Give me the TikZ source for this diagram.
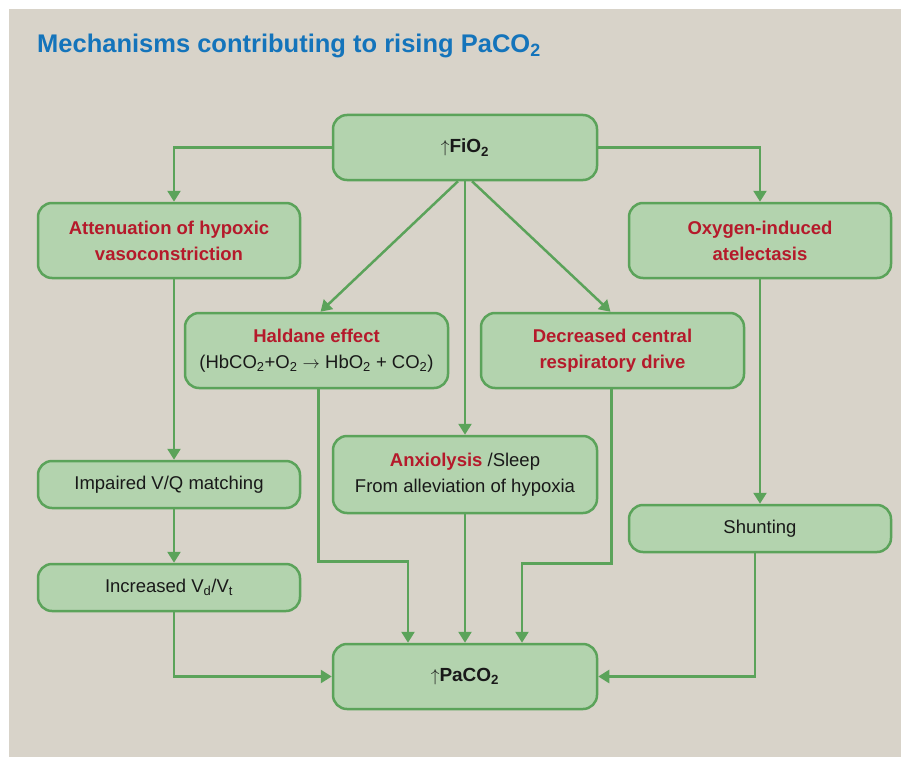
\documentclass[tikz,border=0pt]{standalone}
\usepackage{fontspec}
\setmainfont{Liberation Sans}
\usetikzlibrary{arrows.meta,positioning}

\definecolor{bgtan}{HTML}{D8D3C9}
\definecolor{boxfill}{HTML}{B3D3AE}
\definecolor{boxline}{HTML}{5BA35A}
\definecolor{titleblue}{HTML}{1474BB}
\definecolor{mechred}{HTML}{B51A2B}

\begin{document}
\begin{tikzpicture}[
    x=1pt, y=-1pt,
    box/.style={rounded corners=14pt, draw=boxline, fill=boxfill, line width=2.5pt, align=center,
      minimum width=262pt, minimum height=47pt, inner sep=2pt, text=black!90,
      font=\fontsize{18.5}{26}\selectfont},
    keybox/.style={box, minimum height=75pt, text=mechred, font=\fontsize{18.5}{26}\selectfont\bfseries},
    link/.style={draw=boxline, line width=2.5pt, ->},
    >={Triangle[width=13pt,length=11pt]}
  ]
    \useasboundingbox (0,0) rectangle (901,757);
    \fill[bgtan] (9,9) rectangle (901,757);

    \node[anchor=base west, inner sep=0pt, text=titleblue, font=\fontsize{25.5}{30}\selectfont\bfseries] (title) at (37,53)
      {Mechanisms contributing to rising PaCO\textsubscript{2}};

    % top and bottom
    \node[box, minimum width=264pt, minimum height=65pt, font=\fontsize{19}{26}\selectfont] (fio2) at (465,147.5)
      {$\uparrow$\textbf{FiO\textsubscript{2}}};
    \node[box, minimum width=264pt, minimum height=65pt, font=\fontsize{19}{26}\selectfont] (paco2) at (465,676.5)
      {$\uparrow$\textbf{PaCO\textsubscript{2}}};

    % mechanisms
    \node[keybox] (atten) at (169,240.5) {Attenuation of hypoxic\\vasoconstriction};
    \node[keybox] (atel) at (760,240.5) {Oxygen-induced\\atelectasis};
    \node[box, minimum width=263pt, minimum height=75pt] (hald) at (316.5,350.5)
      {\textcolor{mechred}{\textbf{Haldane effect}}\\(HbCO\textsubscript{2}+O\textsubscript{2} $\rightarrow$ HbO\textsubscript{2} + CO\textsubscript{2})};
    \node[keybox, minimum width=263pt] (drive) at (612.5,350.5) {Decreased central\\respiratory drive};
    \node[box, minimum width=264pt, minimum height=77pt] (anx) at (465,474.5)
      {\textcolor{mechred}{\textbf{Anxiolysis}} /Sleep\\From alleviation of hypoxia};

    % consequences
    \node[box] (vq) at (169,484.5) {Impaired V/Q matching};
    \node[box] (vdvt) at (169,587.5) {Increased V\textsubscript{d}/V\textsubscript{t}};
    \node[box] (shunt) at (760,528.5) {Shunting};

    \draw[link] (fio2.west) -| ([xshift=5pt]atten.north);
    \draw[link] (fio2.east) -| (atel.north);
    \draw[link] ([xshift=-7pt]fio2.south) -- ([xshift=4pt]hald.north);
    \draw[link] ([xshift=7pt]fio2.south) -- ([xshift=-2pt]drive.north);
    \draw[link] (fio2.south) -- (anx.north);

    \draw[link] ([xshift=5pt]atten.south) -- ([xshift=5pt]vq.north);
    \draw[link] ([xshift=5pt]vq.south) -- ([xshift=5pt]vdvt.north);
    \draw[link] ([xshift=5pt]vdvt.south) |- (paco2.west);
    \draw[link] (atel.south) -- (shunt.north);
    \draw[link] ([xshift=-5pt]shunt.south) |- (paco2.east);

    \draw[link] ([xshift=2pt]hald.south) -- ++(0,172) -| ([xshift=-57pt]paco2.north);
    \draw[link] (anx.south) -- (paco2.north);
    \draw[link] ([xshift=-1pt]drive.south) -- ++(0,174) -| ([xshift=57pt]paco2.north);
  \end{tikzpicture}
\end{document}
